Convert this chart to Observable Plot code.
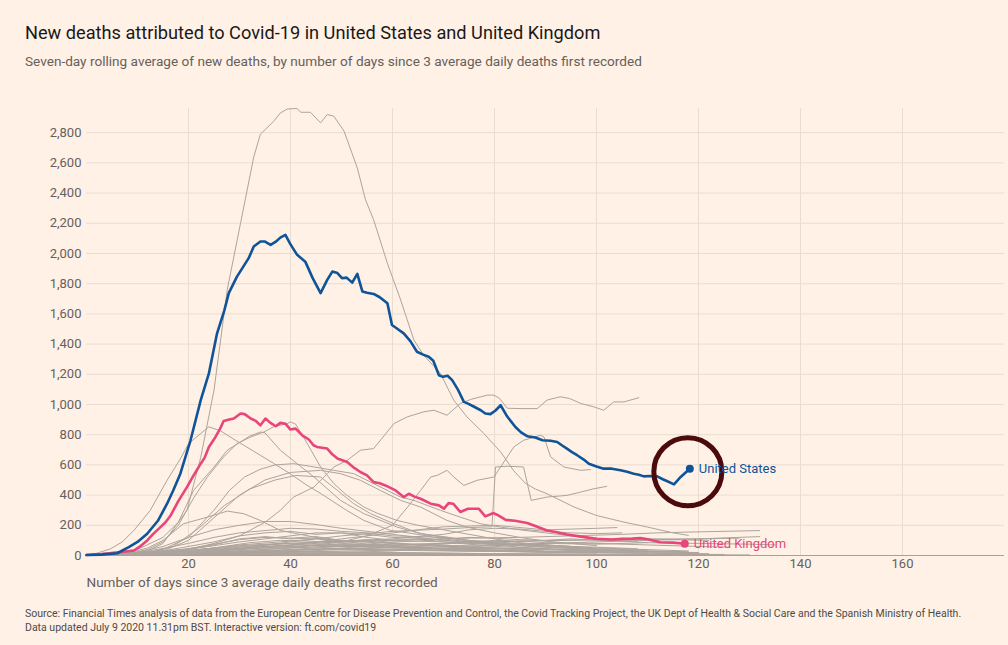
<!DOCTYPE html>
<html><head><meta charset="utf-8">
<script src="https://cdn.jsdelivr.net/npm/d3@7"></script>
<script src="https://cdn.jsdelivr.net/npm/@observablehq/plot@0.6"></script>
<style>
html,body{margin:0;padding:0;background:#fff1e5;width:1008px;height:645px;overflow:hidden;font-family:Roboto,"Noto Sans",sans-serif;}
#title{position:absolute;left:25px;top:23px;font-size:18.2px;line-height:20px;color:#1a1817;white-space:nowrap;}
#subtitle{position:absolute;left:25px;top:53px;font-size:13.6px;line-height:16px;color:#66605c;white-space:nowrap;}
#chart{position:absolute;left:0;top:90px;}
#caption{position:absolute;left:25px;top:607px;font-size:10.5px;line-height:14px;color:#4f4a46;white-space:nowrap;}
</style></head><body>
<div id="title">New deaths attributed to Covid-19 in United States and United Kingdom</div>
<div id="subtitle">Seven-day rolling average of new deaths, by number of days since 3 average daily deaths first recorded</div>
<div id="chart"></div>
<div id="caption">Source: Financial Times analysis of data from the European Centre for Disease Prevention and Control, the Covid Tracking Project, the UK Dept of Health &amp; Social Care and the Spanish Ministry of Health.<br>Data updated July 9 2020 11.31pm BST. Interactive version: ft.com/covid19</div>
<script>
const xTicks = [20, 40, 60, 80, 100, 120, 140, 160];
const yTicks = [0, 200, 400, 600, 800, 1000, 1200, 1400, 1600, 1800, 2000, 2200, 2400, 2600, 2800];
const xLabel = "Number of days since 3 average daily deaths first recorded";
const usName = "United States";
const ukName = "United Kingdom";

// [day, seven-day average deaths]
const unitedStates = [[0,3],[3,6],[6,15],[8.3,55],[10,90],[11.9,144],[14,230],[15.8,343],[17,430],[18.4,542],[20.4,763],[22.4,1029],[24,1206],[25.6,1471],[27,1620],[27.9,1737],[29.5,1847],[30.5,1900],[31.8,1969],[32.8,2046],[34.1,2079],[35,2079],[36.1,2057],[37.2,2080],[38,2105],[39,2123],[40,2060],[41.3,1991],[42.9,1946],[44.3,1840],[45.9,1737],[47.2,1825],[48.2,1880],[49.2,1870],[50.1,1836],[51,1840],[52.1,1807],[53.1,1865],[54.1,1748],[55,1740],[56.3,1732],[57.5,1710],[59,1670],[59.9,1526],[61,1500],[62.2,1471],[63.5,1420],[64.8,1349],[66,1330],[67.1,1316],[68,1290],[69.1,1194],[69.9,1183],[70.8,1190],[71.7,1161],[72.8,1100],[74,1017],[74.8,1006],[76,985],[77.3,962],[78.2,940],[79.2,936],[80.2,960],[81.2,995],[82.5,920],[84.1,851],[85.2,815],[86.4,790],[88,781],[89.4,763],[91,760],[92.3,752],[93.2,730],[94.2,708],[95.2,685],[96.2,664],[97.5,635],[98.5,608],[100,590],[101.4,575],[103,575],[104.7,564],[106,555],[107.3,542],[108.3,535],[109.3,524],[110.5,526],[111.9,524],[113,505],[114,490],[115.2,471],[116.5,520],[118.3,575]];
const unitedKingdom = [[0,3],[3,10],[6.7,22],[9.3,33],[10.5,60],[11.9,100],[13,140],[14.5,188],[15.5,220],[16.5,265],[18,360],[19.7,453],[21,530],[22.4,608],[23.2,650],[24,719],[25.3,785],[26.2,840],[26.9,891],[28,900],[28.9,907],[30.2,940],[31,936],[32.2,907],[33.2,891],[34.1,862],[35.1,907],[36,880],[37.1,856],[38,878],[39,873],[40,834],[41,840],[42.3,796],[43.6,768],[44.5,730],[45.2,719],[47.2,708],[48.2,670],[49.2,642],[51.1,619],[52.5,580],[53.7,553],[55,531],[56.3,486],[57.5,478],[58.6,464],[60.6,431],[62.2,387],[63.2,409],[64.3,390],[65.5,376],[67.5,343],[69.1,332],[70.1,310],[71,347],[71.9,343],[73.3,288],[74.8,310],[76.9,310],[78.2,259],[79.8,281],[80.5,270],[82.2,236],[84,230],[86.4,215],[88,195],[90.3,166],[92,155],[94.2,139],[96,130],[98,120],[100.1,111],[103,106],[105,110],[107,112],[108.6,115],[110,108],[112.5,88],[115,85],[117.3,78]];

// other countries (grey)
const g01 = [[0,3],[10,40],[15,120],[18,220],[19.7,300],[22.4,650],[25,1095],[27.6,1760],[30.2,2200],[32.8,2640],[34.1,2790],[36.7,2875],[38,2930],[39.4,2957],[41.3,2960],[42,2935],[43.9,2935],[45.9,2865],[47.2,2920],[48.5,2909],[50.5,2810],[53.1,2566],[54.7,2356],[56.3,2223],[59,1935],[61.6,1692],[64.2,1427],[66.1,1327],[69.4,1206],[72,1029],[74.6,918],[77.9,808],[81.2,686],[83.8,560],[86,480],[88,440],[90.3,409],[95.6,321],[100,265],[105.4,221],[110,188],[115,150],[118,133]];
const g02 = [[0,3],[10,10],[20,40],[25,80],[30,130],[35,220],[38,299],[40.6,387],[44.6,453],[48.5,586],[51.1,630],[53.7,697],[56.3,708],[60.3,874],[62.9,918],[66.1,951],[68.1,962],[70.7,929],[73.3,1007],[75.5,1035],[78.6,1062],[79.9,1062],[81,1040],[82.5,975],[85,973],[88.4,973],[90.3,1029],[92.9,1051],[94.7,1040],[96.9,1007],[99.5,984],[101.4,962],[103.4,1017],[105.4,1017],[108.3,1045]];
const g03 = [[0,3],[10,8],[20,20],[30,45],[40,90],[50,130],[60,160],[70,175],[75,185],[79.5,190],[80.2,586],[82.5,591],[85.7,586],[87.2,365],[90.3,387],[94.2,398],[96.9,420],[99.5,442],[102,458]];
const g04 = [[0,3],[20,15],[40,50],[50,90],[55,130],[60,200],[63.5,343],[65.5,431],[67.5,520],[68.8,531],[70.7,564],[72,520],[74,464],[76.6,498],[79.9,520],[82.5,653],[83.8,719],[85.7,763],[89,796],[89.7,785],[91,653],[93.6,586],[96.9,564],[98.8,569]];
const g05 = [[0,3],[2,15],[4.7,44],[7,90],[9.3,166],[12.5,299],[15.8,498],[18.4,640],[20,740],[22.4,808],[24,852],[26.3,825],[28.9,770],[32.8,690],[36.7,610],[40,540],[43,470],[46,409],[51,299],[54.4,232],[59.6,166],[64.2,144],[70,110],[75,90],[80,70],[85,55],[90,45],[95,35],[100,28],[105,22]];
const g06 = [[0,3],[8,10],[12,40],[15,90],[18,200],[21,380],[23.7,520],[26.9,653],[29.5,741],[32.2,785],[34.8,818],[36.7,852],[39.4,874],[40,885],[41,870],[43.3,741],[45.9,586],[48.5,476],[51,400],[54.4,321],[57,280],[60.9,232],[65,200],[70,170],[75,140],[80,110],[85,85],[90,70],[95,55],[100,45],[105,40],[110,35]];
const g07 = [[0,3],[8,8],[12,30],[15,80],[18,220],[21,431],[25,586],[27.6,697],[30.2,752],[32,790],[34.1,818],[35,812],[38,697],[41.3,608],[44.6,520],[49.8,365],[54.4,277],[60.9,188],[65,150],[70,120],[75,95],[80,80],[85,65],[90,55],[100,40],[110,30],[115,25]];
const g08 = [[0,3],[10,10],[15,40],[20,120],[25,300],[28,430],[31,520],[34,570],[37,600],[40.6,608],[44,590],[48.5,564],[52.4,542],[56.3,476],[61.6,387],[64.2,365],[69.4,299],[73.3,254],[77.3,210],[81.2,188],[85,170],[90,150],[95,130],[100,110],[105,95],[110,85]];
const g09 = [[0,3],[10,8],[15,30],[20,100],[25,250],[30,400],[35,500],[40,550],[45.9,564],[49.8,542],[53.7,498],[57.6,431],[61.6,365],[65.5,321],[70.7,232],[74.6,188],[80,150],[85,120],[90,95],[95,80],[100,65]];
const g10 = [[0,3],[12,15],[17,60],[22,180],[27,330],[32,440],[37,500],[41,530],[45.9,520],[49.2,431],[52.4,343],[55.7,277],[60.3,210],[65.5,144],[70.7,122],[75,100],[80,85],[90,60],[100,45]];
const g11 = [[0,3],[8,15],[12,50],[15,100],[19,210],[23.7,254],[27.6,294],[30.8,277],[34.1,232],[38,166],[41.3,144],[45,120],[50,95],[55,75],[60,60],[70,45],[80,35],[90,25],[100,20],[110,15]];
const g12 = [[0,3],[10,20],[15,60],[20,120],[25,170],[30,200],[35,225],[40,225],[45,205],[50,180],[55,160],[60,140],[65,120],[70,100],[80,75],[90,55],[100,40],[108,30]];
const g13 = [[0,3],[10,15],[20,80],[25,120],[30,150],[35,165],[40,180],[45,175],[50,160],[55,150],[60,130],[70,120],[75,100],[80,90],[90,70],[95,60]];
const g14 = [[0,3],[20,20],[30,40],[40,70],[50,110],[60,150],[70,190],[75,195],[80,200],[85,185],[90,170],[95,175],[100,180],[104,185]];
const g15 = [[0,3],[15,30],[25,90],[30,130],[35,150],[40,160],[45,140],[50,150],[55,120],[60,100],[65,110],[70,90],[80,60],[90,45],[100,35],[112,25]];
const g16 = [[0,3],[20,40],[30,90],[40,130],[45,150],[50,150],[55,140],[60,120],[65,115],[70,100],[80,80],[90,70],[100,50],[118,30]];
const g17 = [[0,3],[15,20],[25,70],[30,110],[35,125],[40,110],[45,115],[50,95],[60,80],[70,60],[80,50],[90,40],[100,30],[110,25],[120,18]];
const g18 = [[0,3],[20,30],[30,60],[40,80],[50,95],[60,110],[70,140],[75,170],[80,180],[85,175],[90,160],[95,150],[100,145],[105,150]];
const g19 = [[0,3],[25,40],[35,70],[45,90],[55,100],[65,105],[75,115],[85,120],[95,130],[105,140],[112,150],[118,155],[125,160],[132,165]];
const g20 = [[0,3],[20,15],[30,25],[40,40],[50,60],[60,75],[70,80],[80,90],[90,100],[100,105],[110,110],[120,110],[128,115]];
const g21 = [[0,3],[10,12],[20,45],[25,75],[30,105],[35,120],[40,115],[45,125],[50,100],[55,95],[60,80],[70,60],[80,45],[90,30],[100,22],[110,16],[118,12]];
const g22 = [[0,3],[10,8],[20,30],[30,70],[40,95],[45,110],[50,90],[55,105],[60,85],[65,70],[70,65],[80,50],[90,40],[100,30]];
const g23 = [[0,3],[15,10],[25,35],[35,60],[45,80],[55,95],[60,100],[65,95],[70,110],[75,120],[80,115],[85,105],[90,100],[95,110],[100,100],[108,95]];
const g24 = [[0,3],[10,5],[20,15],[30,30],[40,50],[50,65],[60,70],[70,75],[75,90],[80,100],[85,95],[90,85],[100,80],[110,70],[120,60],[126,55]];
const g25 = [[0,3],[12,10],[22,40],[30,65],[38,80],[45,75],[52,70],[60,55],[70,45],[80,35],[90,28],[100,20],[112,15],[122,12]];
const g26 = [[0,3],[15,15],[25,50],[32,85],[38,100],[44,95],[50,80],[58,70],[66,55],[75,40],[85,30],[95,22],[105,18]];
const g27 = [[0,3],[10,4],[20,8],[30,15],[40,25],[50,40],[60,55],[70,65],[80,70],[90,80],[100,75],[110,85],[120,80],[130,75],[135,70]];
const g28 = [[0,3],[20,10],[30,22],[40,35],[50,45],[60,50],[70,48],[80,45],[90,40],[100,35],[110,30],[118,25]];
const g29 = [[0,3],[15,6],[25,18],[35,32],[45,42],[55,40],[65,38],[75,30],[85,25],[95,20]];
const g30 = [[0,3],[10,5],[20,12],[30,20],[40,22],[50,20],[60,18],[70,15],[80,12],[90,10],[100,8],[110,6],[120,5]];
const g31 = [[0,3],[20,6],[30,10],[40,14],[50,15],[60,13],[70,10],[80,8],[90,6],[100,5]];
const g32 = [[0,3],[25,8],[40,12],[55,10],[70,9],[85,7],[100,6],[115,5],[130,4]];
const g33 = [[0,3],[15,8],[25,20],[35,28],[45,26],[55,22],[65,18],[75,14],[85,10],[95,8],[105,7],[115,6]];
const g34 = [[0,3],[20,15],[28,45],[35,60],[42,70],[50,60],[58,55],[65,50],[72,42],[80,35],[88,30]];
const g35 = [[0,3],[30,15],[45,40],[55,60],[65,70],[75,85],[85,95],[95,100],[105,110],[115,105],[122,100]];
const g36 = [[0,3],[20,5],[40,10],[60,30],[70,50],[80,65],[90,80],[100,90],[110,100],[120,110],[128,120],[132,125]];
const g37 = [[0,3],[10,6],[20,22],[28,40],[36,55],[44,65],[52,60],[60,50],[70,40],[80,30],[90,22],[100,16]];
const g38 = [[0,3],[30,5],[50,8],[70,10],[90,9],[110,8],[125,7]];
const g39 = [[0,3],[15,4],[35,6],[55,7],[75,6],[95,5],[112,4]];
const g40 = [[0,3],[18,12],[26,30],[34,48],[42,52],[50,46],[58,40],[66,36],[74,30],[82,26],[90,22],[98,18]];
const g41 = [[0,3],[10,8],[20,25],[30,45],[40,60],[50,70],[55,75],[60,90],[65,95],[70,90],[75,80],[80,75],[90,65],[100,55],[108,45]];
const g42 = [[0,3],[25,10],[40,20],[50,30],[60,35],[70,30],[80,28],[90,26],[100,24],[110,22],[120,20]];

const greySeries = {g01,g02,g03,g04,g05,g06,g07,g08,g09,g10,g11,g12,g13,g14,g15,g16,g17,g18,g19,g20,g21,g22,g23,g24,g25,g26,g27,g28,g29,g30,g31,g32,g33,g34,g35,g36,g37,g38,g39,g40,g41,g42};

const toRows = (name, arr) => arr.map(([day, value]) => ({name, day, value}));
const greyRows = Object.entries(greySeries).flatMap(([n, a]) => toRows(n, a));
const usRows = toRows(usName, unitedStates);
const ukRows = toRows(ukName, unitedKingdom);
const usLast = usRows[usRows.length - 1];
const ukLast = ukRows[ukRows.length - 1];

const blue = "#0f5499";
const pink = "#e8457b";
const grey = "#aca49d";
const grid = "#e9ddd2";

const chart = Plot.plot({
  width: 1008, height: 510,
  marginTop: 18, marginBottom: 45, marginLeft: 86, marginRight: 4,
  style: {background: "transparent", fontFamily: "Roboto, 'Noto Sans', sans-serif", fontSize: "13px", color: "#66605c", overflow: "visible"},
  x: {domain: [0, 180], ticks: xTicks, tickSize: 0, tickPadding: 3, label: null},
  y: {domain: [0, 2960], ticks: yTicks, tickSize: 0, tickPadding: 5, tickFormat: d3.format(","), label: null},
  marks: [
    Plot.ruleY(yTicks.filter(d => d > 0), {stroke: grid, strokeWidth: 1}),
    Plot.ruleX(xTicks, {stroke: grid, strokeWidth: 1}),
    Plot.line(greyRows, {x: "day", y: "value", z: "name", stroke: grey, strokeWidth: 1}),
    Plot.ruleY([0], {stroke: "#a8a09a", strokeWidth: 1}),
    Plot.line(ukRows, {x: "day", y: "value", stroke: pink, strokeWidth: 2.6}),
    Plot.line(usRows, {x: "day", y: "value", stroke: blue, strokeWidth: 2.6}),
    Plot.dot([ukLast], {x: "day", y: "value", r: 4, fill: pink}),
    Plot.dot([usLast], {x: "day", y: "value", r: 4, fill: blue}),
    Plot.dot([usLast], {x: "day", y: "value", r: 34, dx: -2, dy: 3, stroke: "#4b0a0c", strokeWidth: 5, fill: "none"}),
    Plot.text([usLast], {x: "day", y: "value", text: d => d.name, dx: 9, textAnchor: "start", fill: blue, fontSize: 13}),
    Plot.text([ukLast], {x: "day", y: "value", text: d => d.name, dx: 9, textAnchor: "start", fill: pink, fontSize: 13}),
    Plot.text([xLabel], {frameAnchor: "bottom-left", text: d => d, dy: 31, textAnchor: "start", fontSize: 13.5, fill: "#66605c"})
  ]
});
document.getElementById("chart").appendChild(chart);
</script>
</body></html>
